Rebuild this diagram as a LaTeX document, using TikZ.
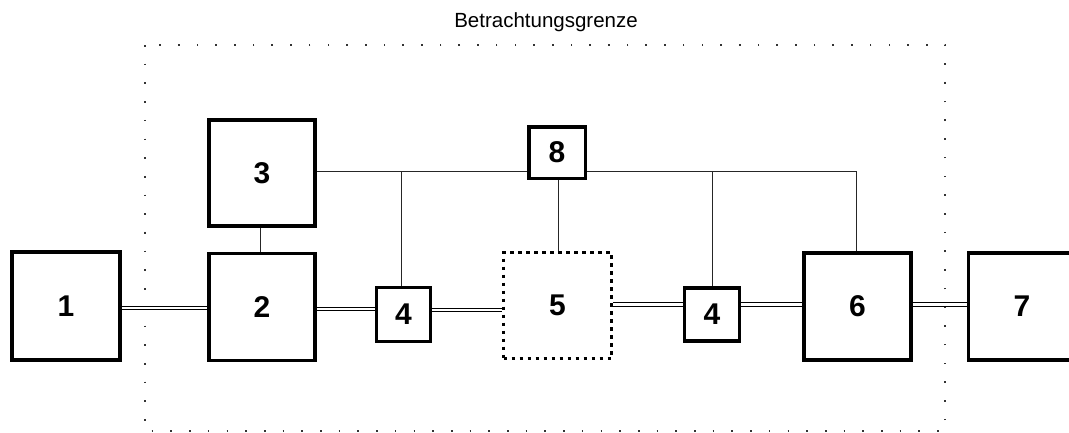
\documentclass[tikz,border=0pt]{standalone}
\usepackage{fontspec}
\setmainfont{Liberation Sans}
\begin{document}
\begin{tikzpicture}[x=1pt,y=-1pt,
  box/.style={draw, line width=3.5pt, inner sep=0pt, font=\fontsize{30}{30}\selectfont\bfseries},
  dotbox/.style={draw, line width=3.8pt, dash pattern=on 3.8pt off 4.2pt, inner sep=0pt, font=\fontsize{30}{30}\selectfont\bfseries},
  bound/.style={draw=black!80, line width=1.6pt, dash pattern=on 1.6pt off 17.1pt},
  conn/.style={line width=1pt, black!85},
  dbl/.style={double, line width=0.9pt, double distance=2.4pt}]
\useasboundingbox (0,0) rectangle (1069,432);
% boundary
\draw[bound] (145,45) rectangle (945,431);
\node[font=\fontsize{20.5}{20.5}\selectfont, anchor=base] (title) at (546,27) {Betrachtungsgrenze};
% boxes
\node[box, minimum width=108pt, minimum height=108pt] (n1) at (66,306) {1};
\node[box, minimum width=106pt, minimum height=107pt] (n2) at (262,307) {2};
\node[box, minimum width=106pt, minimum height=106pt] (n3) at (262,173) {3};
\node[box, minimum width=54pt, minimum height=54pt] (n4a) at (403.5,314.5) {4};
\node[dotbox, minimum width=108pt, minimum height=106pt] (n5) at (557.5,305.5) {5};
\node[box, minimum width=55pt, minimum height=53pt] (n4b) at (712,314.5) {4};
\node[box, minimum width=107pt, minimum height=107pt] (n6) at (857.5,306.5) {6};
\node[box, minimum width=107pt, minimum height=107pt] (n7) at (1022,306.5) {7};
\node[box, minimum width=56.5pt, minimum height=51.5pt] (n8) at (557,152.5) {8};
% thin connections
\coordinate (yT) at (0,171.5);
\coordinate (jA) at (401,171.5);
\coordinate (jB) at (712,171.5);
\coordinate (jC) at (856,171.5);
\draw[conn] (n3.east|-yT) -- (n8.west|-yT);
\draw[conn] (n8.east|-yT) -- (jC) -- (jC|-n6.north);
\draw[conn] (jA) -- (jA|-n4a.north);
\draw[conn] (jB) -- (jB|-n4b.north);
\draw[conn] (n8.south-|558,0) -- (n5.north-|558,0);
\draw[conn] (n3.south-|260,0) -- (n2.north-|260,0);
% double lines
\coordinate (yA) at (0,308);
\coordinate (yB) at (0,309);
\coordinate (yC) at (0,310);
\coordinate (yD) at (0,304.5);
\draw[dbl] (n1.east|-yA) -- (n2.west|-yA);
\draw[dbl] (n2.east|-yB) -- (n4a.west|-yB);
\draw[dbl] (n4a.east|-yC) -- (n5.west|-yC);
\draw[dbl] (n5.east|-yD) -- (n4b.west|-yD);
\draw[dbl] (n4b.east|-yD) -- (n6.west|-yD);
\draw[dbl] (n6.east|-yD) -- (n7.west|-yD);
\end{tikzpicture}
\end{document}
